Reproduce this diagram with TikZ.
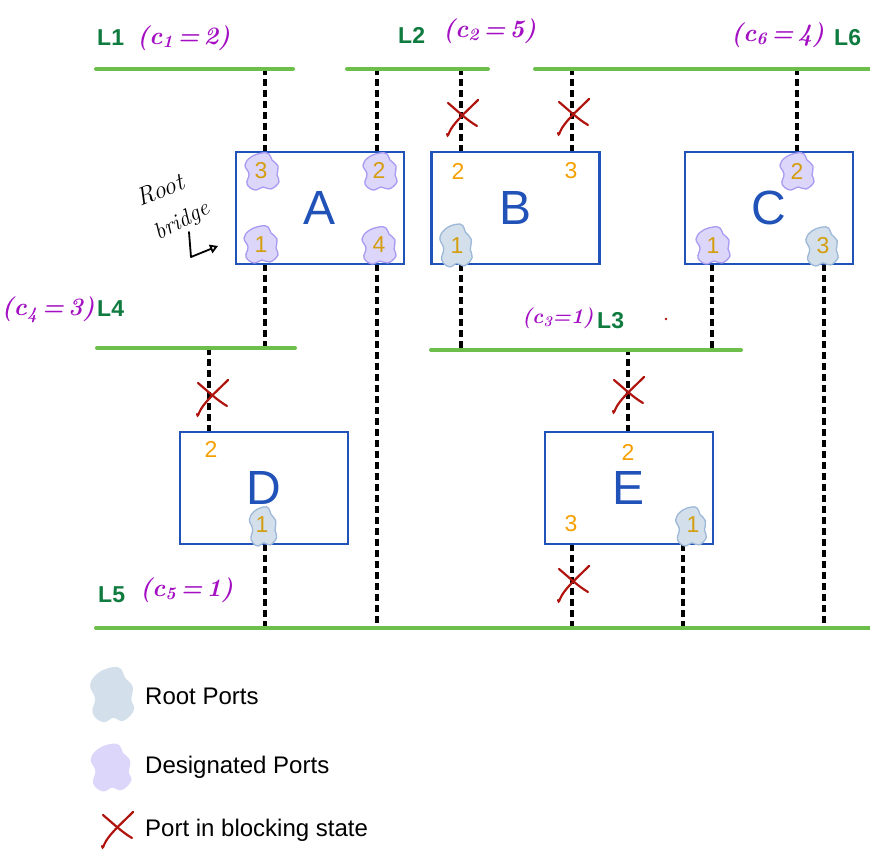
\documentclass[tikz,border=0pt]{standalone}
\usepackage{fontspec}
\newfontfamily\lsans{Liberation Sans}
\usetikzlibrary{arrows.meta}
\definecolor{busgreen}{HTML}{6DBE4B}
\definecolor{lgreen}{HTML}{0F7B3F}
\definecolor{boxblue}{HTML}{2052B8}
\definecolor{hpurple}{HTML}{A30FC2}
\definecolor{xred}{HTML}{B0140F}
\definecolor{portorange}{HTML}{F5A000}
\definecolor{portgold}{HTML}{D49E10}
\definecolor{desfill}{HTML}{DCD6FB}
\definecolor{desline}{HTML}{A99BF2}
\definecolor{rootfill}{HTML}{D3DFEB}
\definecolor{rootline}{HTML}{9DB8D8}
\newcommand{\myblob}[5][]{%
  \begin{scope}[shift={(#2,#3)},#1]
    \draw[fill=#4, draw=#5, line width=1.3pt] plot[smooth cycle, tension=0.7] coordinates {(0,-18) (7,-17) (10,-11) (16,-5) (15,4) (17,11) (9,18) (1,16) (-7,19) (-15,13) (-13,3) (-17,-6) (-11,-14)};
  \end{scope}}
\newcommand{\redx}[2]{%
  \begin{scope}[shift={(#1,#2)}]
    \draw[xmark] (-13,-14) .. controls (0,-3) and (6,3) .. (16,9);
    \draw[xmark] (17,-17) .. controls (5,-5) and (-8,6) .. (-12,16) .. controls (-13,19) and (-14,19) .. (-14,17);
  \end{scope}}
\begin{document}
\begin{tikzpicture}[x=1pt,y=-1pt,
  box/.style={draw=boxblue, line width=2.4pt, minimum width=168pt, minimum height=112pt, inner sep=0pt, text=boxblue, font=\lsans\fontsize{48}{48}\selectfont},
  bus/.style={draw=busgreen, line width=4pt, line cap=round},
  link/.style={draw=black, line width=3.2pt, dash pattern=on 7pt off 4pt},
  pnum/.style={text=portorange, font=\lsans\fontsize{23}{23}\selectfont, inner sep=0pt},
  pnumd/.style={pnum, text=portgold},
  lname/.style={text=lgreen, font=\lsans\bfseries\fontsize{23}{23}\selectfont, inner sep=0pt, anchor=west},
  cost/.style={text=hpurple, font=\bfseries\itshape\fontsize{25}{25}\selectfont, inner sep=0pt, anchor=west},
  note/.style={text=black, font=\itshape\fontsize{25}{25}\selectfont, inner sep=0pt},
  leg/.style={font=\lsans\fontsize{24}{24}\selectfont, inner sep=0pt, anchor=west},
  xmark/.style={draw=xred, line width=2.2pt, line cap=round}]
\useasboundingbox (0,0) rectangle (870,850);

% bus end points
\coordinate (L1w) at (96,69);  \coordinate (L1e) at (293,69);
\coordinate (L2w) at (347,69); \coordinate (L2e) at (488,69);
\coordinate (L6w) at (535,69); \coordinate (L6e) at (870,69);
\coordinate (L4w) at (97,348); \coordinate (L4e) at (295,348);
\coordinate (L3w) at (431,350); \coordinate (L3e) at (741,350);
\coordinate (L5w) at (96,628); \coordinate (L5e) at (870,628);

% port attach points
\coordinate (A3) at (265,152); \coordinate (A2) at (377,152);
\coordinate (A1) at (265,264); \coordinate (A4) at (377,264);
\coordinate (B2) at (461,152); \coordinate (B3) at (572,152);
\coordinate (B1) at (461,264);
\coordinate (C2) at (797,152); \coordinate (C1) at (712,264);
\coordinate (C3) at (824,264);
\coordinate (D2) at (209,432); \coordinate (D1) at (265,544);
\coordinate (E2) at (628,432); \coordinate (E3) at (572,544);
\coordinate (E1) at (683,544);

% links
\draw[link] (A3) -- (A3 |- L1w);
\draw[link] (A2) -- (A2 |- L2w);
\draw[link] (A1) -- (A1 |- L4w);
\draw[link] (A4) -- (A4 |- L5w);
\draw[link] (B2) -- (B2 |- L2w);
\draw[link] (B3) -- (B3 |- L6w);
\draw[link] (B1) -- (B1 |- L3w);
\draw[link] (C2) -- (C2 |- L6w);
\draw[link] (C1) -- (C1 |- L3w);
\draw[link] (C3) -- (C3 |- L5w);
\draw[link] (D2) -- (D2 |- L4w);
\draw[link] (D1) -- (D1 |- L5w);
\draw[link] (E2) -- (E2 |- L3w);
\draw[link] (E3) -- (E3 |- L5w);
\draw[link] (E1) -- (E1 |- L5w);

% buses
\draw[bus] (L1w) -- (L1e);
\draw[bus] (L2w) -- (L2e);
\draw[bus] (L6w) -- (L6e);
\draw[bus] (L4w) -- (L4e);
\draw[bus] (L3w) -- (L3e);
\draw[bus] (L5w) -- (L5e);

% bridges
\node[box] (A) at (320,208) {A};
\node[box] (B) at (515.5,208) {B};
\node[box] (C) at (769,208) {C};
\node[box] (D) at (264,488) {D};
\node[box] (E) at (629,488) {E};

% port blobs
\myblob{262}{171}{desfill}{desline}
\myblob{380}{171}{desfill}{desline}
\myblob{261}{244}{desfill}{desline}
\myblob{379}{245}{desfill}{desline}
\myblob{797}{171}{desfill}{desline}
\myblob{713}{245}{desfill}{desline}
\myblob[xscale=0.95,yscale=1.15]{456}{245}{rootfill}{rootline}
\myblob[xscale=0.95,yscale=1.05]{822}{246}{rootfill}{rootline}
\myblob[xscale=0.8,yscale=1.05]{263}{526}{rootfill}{rootline}
\myblob[xscale=0.9,yscale=1.05]{691}{526}{rootfill}{rootline}

% port numbers
\node[pnumd] (nA3) at (261,171) {3};
\node[pnumd] (nA2) at (379,170) {2};
\node[pnumd] (nA1) at (261,245) {1};
\node[pnumd] (nA4) at (379,245) {4};
\node[pnum]  (nB2) at (458,171) {2};
\node[pnum]  (nB3) at (571,171) {3};
\node[pnumd] (nB1) at (457,246) {1};
\node[pnumd] (nC2) at (797,171) {2};
\node[pnumd] (nC1) at (713,246) {1};
\node[pnumd] (nC3) at (823,246) {3};
\node[pnum]  (nD2) at (211,449) {2};
\node[pnumd] (nD1) at (262,525) {1};
\node[pnum]  (nE2) at (628,452) {2};
\node[pnum]  (nE3) at (571,524) {3};
\node[pnumd] (nE1) at (693,525) {1};

% blocked ports
\redx{461}{117}
\redx{572}{116}
\redx{211}{397}
\redx{627}{394}
\redx{572}{583}

% segment labels
\node[lname] (tL1) at (97,38) {L1};
\node[cost]  (cL1) at (137,38) {(c\textsubscript{1}\,=\,2)};
\node[lname] (tL2) at (398,35) {L2};
\node[cost]  (cL2) at (443,31) {(c\textsubscript{2}\,=\,5)};
\node[cost]  (cL6) at (731,35) {(c\textsubscript{6}\,=\,4)};
\node[lname] (tL6) at (834,38) {L6};
\node[cost, anchor=east] (cL4) at (95,310) {(c\textsubscript{4}\,=\,3)};
\node[lname] (tL4) at (97,309) {L4};
\node[cost, font=\bfseries\itshape\fontsize{21}{21}\selectfont] (cL3) at (522,318) {(c\textsubscript{3}=1)};
\node[lname] (tL3) at (597,321) {L3};
\node[lname] (tL5) at (98,595) {L5};
\node[cost]  (cL5) at (140,590) {(c\textsubscript{5}\,=\,1)};
\fill[xred] (666,319) circle (1.4);

% root bridge note
\node[note, rotate=22] (rbRoot) at (160,190) {Root};
\node[note, rotate=28, font=\itshape\fontsize{23}{23}\selectfont] (rbBridge) at (182,222) {bridge};
\coordinate (rbs) at (189,232);
\coordinate (rbm) at (191,257);
\coordinate (rbe) at (218,246);
\draw[line width=1.8pt, line cap=round, line join=round, -{Triangle[open, length=8pt, width=9pt]}] (rbs) -- (rbm) -- (rbe);

% legend
\myblob[xscale=1.25,yscale=1.45]{112}{694}{rootfill}{rootfill}
\node[leg] (lg1) at (145,696) {Root Ports};
\myblob[xscale=1.15,yscale=1.25]{111}{767}{desfill}{desfill}
\node[leg] (lg2) at (145,767) {Designated Ports};
\redx{116}{829}
\node[leg] (lg3) at (145,830) {Port in blocking state};
\end{tikzpicture}
\end{document}
